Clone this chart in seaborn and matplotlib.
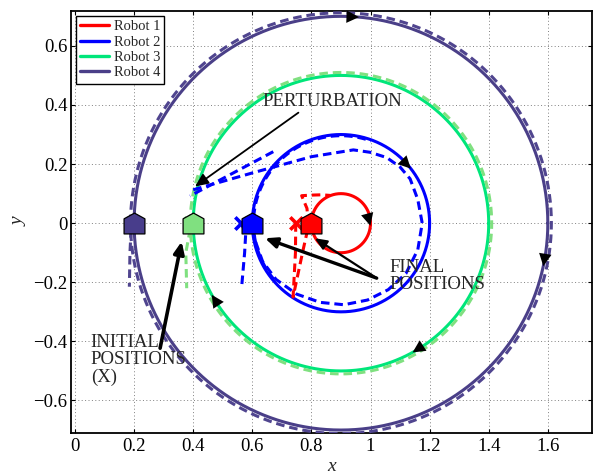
import numpy as np
import matplotlib
matplotlib.use("Agg")
import matplotlib.pyplot as plt
from matplotlib.path import Path
from matplotlib.lines import Line2D
import seaborn as sns

# ---------------- data ----------------
robots = ["Robot 1", "Robot 2", "Robot 3", "Robot 4"]
solid_colors = ["#ff0000", "#0000ff", "#00e67a", "#4a3f88"]
dash_colors = ["#ff0000", "#0000ff", "#80e080", "#50458f"]
marker_colors = ["#ff0000", "#0000ff", "#80e080", "#483d8b"]

orbit_cx, orbit_cy = 0.9, 0.0
orbit_radius = [0.1, 0.3, 0.5, 0.7]          # reference circles (solid)
tracked_radius = [0.1, 0.296, 0.51, 0.712]   # measured orbits (dashed)

final_x = [0.8, 0.6, 0.4, 0.2]
final_y = [0.0, 0.0, 0.0, 0.0]
initial_x = [0.747, 0.561, 0.39, 0.195]
initial_y = [0.0, 0.0, 0.0, 0.0]

# start-up legs of the measured trajectories
r1_path_x = [0.747, 0.746, 0.738, 0.755, 0.772, 0.79, 0.785, 0.767, 0.80, 0.835, 0.863]
r1_path_y = [0.0, -0.10, -0.25, -0.17, -0.09, -0.01, 0.05, 0.093, 0.095, 0.096, 0.094]
r2_drop_x = [0.561, 0.578, 0.574, 0.564]
r2_drop_y = [0.0, -0.03, -0.10, -0.215]
r3_drop_x = [0.39, 0.375, 0.378]
r3_drop_y = [-0.02, -0.10, -0.22]
r4_drop_x = [0.19, 0.186, 0.184]
r4_drop_y = [-0.02, -0.10, -0.215]

# robot 2 perturbation and recovery
r2_jump_x = [0.671, 0.389]
r2_jump_y = [0.242, 0.092]
r2_return_x = [0.40, 0.60, 0.80, 0.942, 0.998, 1.055, 1.10, 1.134, 1.16, 1.175,
               1.16, 1.12, 1.06, 0.99, 0.91, 0.83, 0.75, 0.68, 0.635, 0.61, 0.60]
r2_return_y = [0.113, 0.17, 0.225, 0.248, 0.240, 0.222, 0.19, 0.150, 0.08, 0.0,
               -0.09, -0.17, -0.225, -0.26, -0.276, -0.268, -0.24, -0.19, -0.13, -0.06, 0.0]
r2_orbit_span = (220, 70)     # degrees, clockwise stretch of the dashed orbit

# direction-of-travel arrowheads (angle on each reference circle, degrees)
dir_arrow_robot = [0, 1, 2, 2, 3, 3]
dir_arrow_angle = [-5, 38, -151, -61, 85, -12]

x_ticks = [0, 0.2, 0.4, 0.6, 0.8, 1.0, 1.2, 1.4, 1.6]
x_tick_labels = ["0", "0.2", "0.4", "0.6", "0.8", "1", "1.2", "1.4", "1.6"]
y_ticks = [-0.6, -0.4, -0.2, 0, 0.2, 0.4, 0.6]
y_tick_labels = ["\u22120.6", "\u22120.4", "\u22120.2", "0", "0.2", "0.4", "0.6"]

# ---------------- style ----------------
sns.set_style("ticks")
plt.rcParams["font.family"] = ["Liberation Serif", "DejaVu Serif"]
plt.rcParams["axes.unicode_minus"] = True

fig = plt.figure(figsize=(5.94, 4.76), dpi=100)
ax = fig.add_axes([71 / 594, 1 - 433 / 476, (592 - 71) / 594, (433 - 11) / 476])

DASH = (0, (2.8, 1.6))
LW = 2.2


def circle_xy(r, a0=0.0, a1=360.0, n=361):
    t = np.deg2rad(np.linspace(a0, a1, n))
    return orbit_cx + r * np.cos(t), orbit_cy + r * np.sin(t)


def trace(xs, ys, color, ls="-", lw=LW, z=2):
    sns.lineplot(x=np.asarray(xs), y=np.asarray(ys), sort=False, estimator=None,
                 color=color, linewidth=lw, linestyle=ls, ax=ax, zorder=z)


# robots drawn from the outermost inwards
for i in [3, 2, 1, 0]:
    cx, cy = circle_xy(orbit_radius[i])
    trace(cx, cy, solid_colors[i], "-", z=2)
    if i in (2, 3):
        dx, dy = circle_xy(tracked_radius[i], 180, -180)
        trace(dx, dy, dash_colors[i], DASH, z=3)
    if i == 3:
        trace(r4_drop_x, r4_drop_y, dash_colors[i], DASH, z=3)
    if i == 2:
        trace(r3_drop_x, r3_drop_y, dash_colors[i], DASH, z=3)
    if i == 1:
        ox, oy = circle_xy(tracked_radius[i], r2_orbit_span[0], r2_orbit_span[1], 121)
        trace(ox, oy, dash_colors[i], DASH, z=3)
        trace(r2_drop_x, r2_drop_y, dash_colors[i], DASH, z=3)
        trace(r2_jump_x, r2_jump_y, dash_colors[i], DASH, z=3)
        trace(r2_return_x, r2_return_y, dash_colors[i], DASH, z=3)
    if i == 0:
        trace(r1_path_x, r1_path_y, dash_colors[i], DASH, z=3)

# initial positions (X) and final positions (house markers)
for i in range(4):
    sns.scatterplot(x=[initial_x[i]], y=[initial_y[i]], marker="x", s=80,
                    color=marker_colors[i], linewidth=2.6, ax=ax, zorder=4, legend=False)

house = Path([(-1, -1), (1, -1), (1, 0.45), (0, 1), (-1, 0.45), (-1, -1)],
             [Path.MOVETO, Path.LINETO, Path.LINETO, Path.LINETO, Path.LINETO, Path.CLOSEPOLY])
for i in range(4):
    sns.scatterplot(x=[final_x[i]], y=[final_y[i]], marker=house, s=225,
                    color=marker_colors[i], edgecolor="black", linewidth=0.9,
                    ax=ax, zorder=5, legend=False)

# travel direction arrowheads
for k, ang in zip(dir_arrow_robot, dir_arrow_angle):
    r = orbit_radius[k]
    t = np.deg2rad(ang)
    tip = (orbit_cx + r * np.cos(t), orbit_cy + r * np.sin(t))
    back = np.deg2rad(ang + 4.0 / r)
    tail = (orbit_cx + r * np.cos(back), orbit_cy + r * np.sin(back))
    ax.annotate("", xy=tip, xytext=tail,
                arrowprops=dict(arrowstyle="-|>,head_length=0.6,head_width=0.3",
                                color="black", lw=0, mutation_scale=15,
                                shrinkA=0, shrinkB=0), zorder=6)

# annotations
TXT = 13.5
ax.text(0.636, 0.412, "PERTURBATION", fontsize=TXT, ha="left", va="center", zorder=7)
ax.annotate("", xy=(0.406, 0.124), xytext=(0.756, 0.374),
            arrowprops=dict(arrowstyle="-|>,head_length=0.5,head_width=0.22",
                            color="black", lw=1.3, mutation_scale=16, shrinkA=0, shrinkB=0),
            zorder=7)

ax.text(1.063, -0.18, "FINAL\nPOSITIONS", fontsize=TXT, ha="left", va="center",
        linespacing=1.0, zorder=7)
ax.annotate("", xy=(0.643, -0.051), xytext=(1.021, -0.186),
            arrowprops=dict(arrowstyle="-|>,head_length=0.5,head_width=0.22",
                            color="black", lw=2.4, mutation_scale=14, shrinkA=0, shrinkB=0),
            zorder=7)
ax.annotate("", xy=(0.812, -0.051), xytext=(1.021, -0.186),
            arrowprops=dict(arrowstyle="-|>,head_length=0.5,head_width=0.22",
                            color="black", lw=1.6, mutation_scale=14, shrinkA=0, shrinkB=0),
            zorder=7)

ax.text(0.053, -0.463, "INITIAL\nPOSITIONS\n(X)", fontsize=TXT, ha="left", va="center",
        linespacing=1.05, zorder=7)
ax.annotate("", xy=(0.361, -0.062), xytext=(0.288, -0.423),
            arrowprops=dict(arrowstyle="-|>,head_length=0.5,head_width=0.22",
                            color="black", lw=2.6, mutation_scale=14, shrinkA=0, shrinkB=0),
            zorder=7)

# axes, ticks, grid
ax.set_xlim(-0.0135, 1.7495)
ax.set_ylim(-0.71, 0.718)
ax.set_xticks(x_ticks)
ax.set_xticklabels(x_tick_labels)
ax.set_yticks(y_ticks)
ax.set_yticklabels(y_tick_labels)
ax.tick_params(axis="both", direction="in", top=True, right=True, length=3,
               width=0.8, labelsize=13.5, colors="black")
ax.tick_params(axis="x", pad=3.5)
ax.tick_params(axis="y", pad=2.5)
ax.grid(True, linestyle=(0, (1, 2.5)), color="0.5", linewidth=0.7)
for s in ax.spines.values():
    s.set_color("black")
    s.set_linewidth(1.3)
    s.set_visible(True)
ax.set_xlabel("x", fontsize=14, fontstyle="italic", labelpad=2)
ax.set_ylabel("y", fontsize=14, fontstyle="italic", labelpad=4)

handles = [Line2D([0], [0], color=c, lw=2.4) for c in solid_colors]
leg = ax.legend(handles, robots, loc="upper left", bbox_to_anchor=(0.009, 0.989),
                borderaxespad=0, fontsize=10.5, frameon=True, fancybox=False,
                edgecolor="black", framealpha=1, handlelength=2.0, handletextpad=0.3,
                labelspacing=0.15, borderpad=0.3)
leg.get_frame().set_linewidth(1.0)
leg.set_zorder(10)

fig.savefig("out.png", dpi=100)
